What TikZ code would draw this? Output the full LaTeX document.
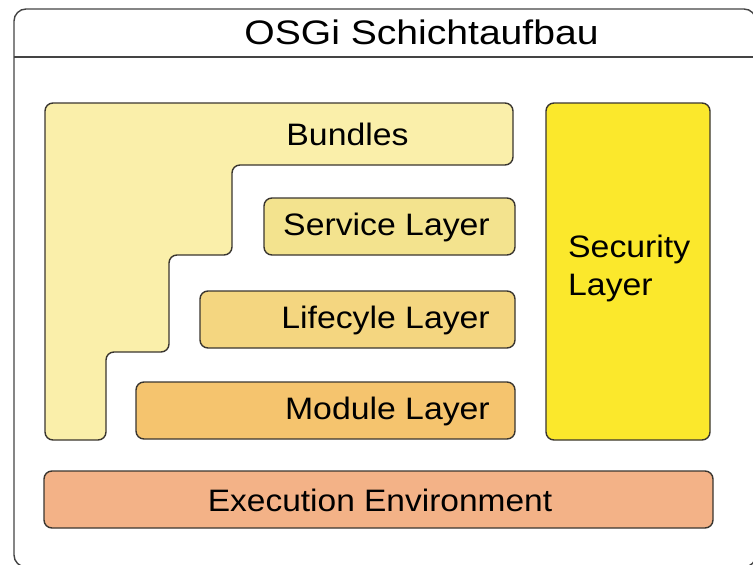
\documentclass[tikz,border=0pt]{standalone}
\usepackage{fontspec}
\setmainfont{Liberation Sans}
\newcommand{\widetext}[2]{\scalebox{#1}[1]{#2}}
\definecolor{framegray}{HTML}{444444}
\definecolor{edgegray}{HTML}{3A3630}
\definecolor{bundlefill}{HTML}{FAEFAA}
\definecolor{servicefill}{HTML}{F3E38E}
\definecolor{lifefill}{HTML}{F4D680}
\definecolor{modulefill}{HTML}{F5C46E}
\definecolor{securityfill}{HTML}{FBE82C}
\definecolor{execfill}{HTML}{F3B287}
\begin{document}
\begin{tikzpicture}[x=1pt, y=-1pt,
  layerbox/.style={draw=edgegray, line width=1.4pt, rounded corners=8pt},
  lbl/.style={inner sep=0pt, font=\fontsize{31}{36}\selectfont},
  titlelbl/.style={inner sep=0pt, font=\fontsize{34}{40}\selectfont}]
\useasboundingbox (0,0) rectangle (753,565);

% outer frame with header band
\draw[framegray, line width=1.4pt, rounded corners=12pt] (14,9) rectangle (756,567);
\draw[framegray, line width=1.4pt] (14,57) -- (756,57);
\node[titlelbl, anchor=base] (title) at (421.5,44) {\widetext{1.15}{OSGi Schichtaufbau}};

% stepped bundle area
\draw[layerbox, fill=bundlefill] (45,103) -- (513,103) -- (513,165) -- (232,165)
  -- (232,255) -- (169,255) -- (169,352) -- (106,352) -- (106,440) -- (45,440) -- cycle;
\node[lbl, anchor=base] (bundles) at (347.5,145) {\widetext{1.09}{Bundles}};

% framework layers
\draw[layerbox, fill=servicefill] (264,198) rectangle (515,255);
\node[lbl, anchor=base east] (service) at (490,235) {\widetext{1.09}{Service Layer}};

\draw[layerbox, fill=lifefill] (200,291) rectangle (515,348);
\node[lbl, anchor=base east] (lifecycle) at (490,328) {\widetext{1.09}{Lifecyle Layer}};

\draw[layerbox, fill=modulefill] (136,382) rectangle (515,439);
\node[lbl, anchor=base east] (module) at (490,419) {\widetext{1.09}{Module Layer}};

% security column
\draw[layerbox, fill=securityfill] (546,103) rectangle (710,440);
\node[lbl, anchor=base west] (security1) at (568,257) {\widetext{1.09}{Security}};
\node[lbl, anchor=base west] (security2) at (568,295) {\widetext{1.09}{Layer}};

% execution environment
\draw[layerbox, fill=execfill] (44,471) rectangle (713,528);
\node[lbl, anchor=base] (exec) at (380,511) {\widetext{1.08}{Execution Environment}};
\end{tikzpicture}
\end{document}
